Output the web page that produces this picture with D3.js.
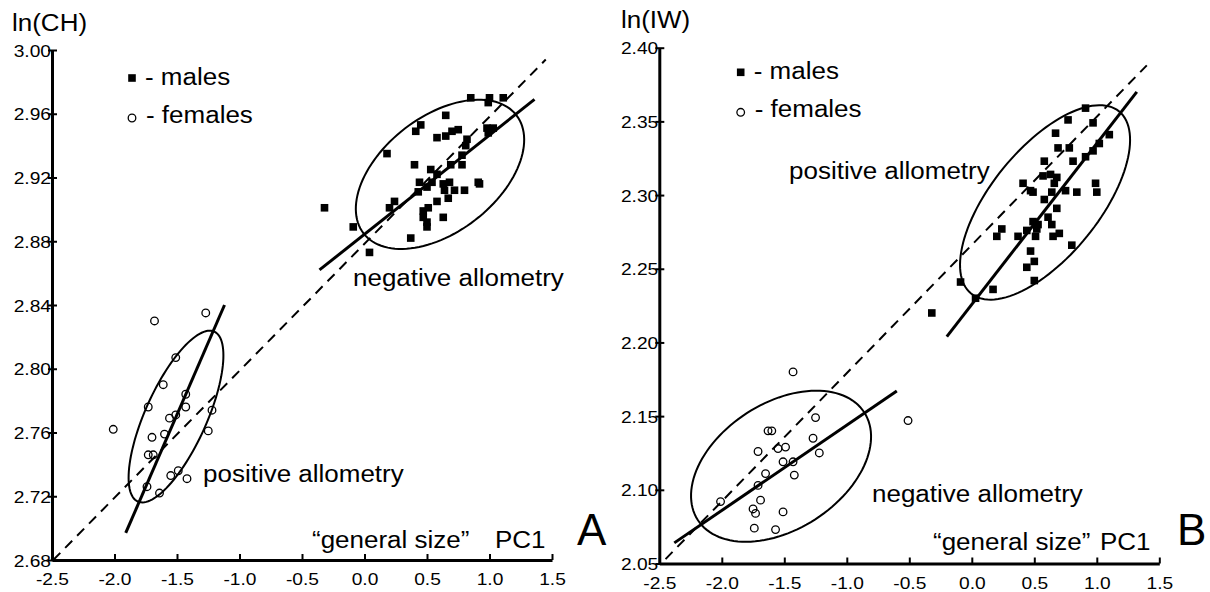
<!DOCTYPE html>
<html>
<head>
<meta charset="utf-8">
<script src="https://cdn.jsdelivr.net/npm/d3@7"></script>
<style>
  body { margin: 0; background: #fff; }
  text { font-family: "Liberation Sans", Arial, sans-serif; fill: #000; }
</style>
</head>
<body>
<div id="chart"></div>
<script>
// ln(CH) vs PC1, panel A
const chMales = [
  [0.85,2.970],[1.00,2.970],[1.11,2.970],[0.99,2.967],[0.65,2.959],[0.45,2.953],[0.41,2.949],[0.70,2.949],
  [0.75,2.950],[0.65,2.946],[0.58,2.945],[0.98,2.951],[1.03,2.951],[0.99,2.948],[0.82,2.944],[0.81,2.940],
  [0.18,2.935],[0.78,2.934],[0.40,2.928],[0.69,2.928],[0.78,2.928],[0.53,2.925],[0.58,2.922],[0.44,2.917],
  [0.54,2.917],[0.50,2.914],[0.63,2.916],[0.68,2.917],[0.91,2.917],[0.92,2.916],[0.64,2.912],[0.72,2.912],
  [0.80,2.912],[0.43,2.911],[0.67,2.907],[0.58,2.905],[0.24,2.905],[0.20,2.901],[0.51,2.901],[0.47,2.899],
  [0.47,2.895],[0.63,2.895],[0.50,2.892],[0.50,2.889],[-0.32,2.901],[-0.09,2.889],[0.37,2.882],[0.04,2.873]
];
const chFemales = [
  [-1.68,2.830],[-1.27,2.835],[-1.51,2.807],[-1.61,2.790],[-1.73,2.776],[-1.43,2.784],[-1.43,2.776],
  [-1.51,2.771],[-1.56,2.769],[-1.22,2.774],[-2.01,2.762],[-1.70,2.757],[-1.60,2.759],[-1.25,2.761],
  [-1.73,2.746],[-1.69,2.746],[-1.55,2.733],[-1.49,2.736],[-1.42,2.731],[-1.74,2.726],[-1.64,2.722]
];
const chIsometry = [[-2.49,2.680],[1.45,2.994]];
const chMaleFit = [[-0.36,2.862],[1.36,2.969]];
const chFemaleFit = [[-1.91,2.697],[-1.12,2.840]];
// ellipses: centre, two conjugate semi-axes (data units)
const chMaleEllipse = {c:[0.604,2.922], u:[0.612,0.0370], v:[0.281,-0.0287]};
const chFemaleEllipse = {c:[-1.508,2.770], u:[0.306,0.0533], v:[0.224,-0.0079]};

// ln(IW) vs PC1, panel B
const iwMales = [
  [0.91,2.359],[0.77,2.351],[0.97,2.349],[0.67,2.342],[1.10,2.341],[1.02,2.335],[0.69,2.332],[0.78,2.332],
  [0.97,2.330],[0.91,2.326],[0.58,2.323],[0.81,2.323],[0.57,2.313],[0.63,2.314],[0.68,2.312],[0.66,2.308],
  [0.41,2.308],[0.99,2.308],[0.47,2.303],[0.49,2.302],[0.64,2.302],[0.75,2.303],[0.84,2.302],[1.00,2.302],
  [0.58,2.297],[0.68,2.291],[0.61,2.285],[0.49,2.282],[0.53,2.280],[0.64,2.280],[0.24,2.277],[0.44,2.276],
  [0.52,2.277],[0.20,2.272],[0.37,2.272],[0.51,2.272],[0.65,2.272],[0.70,2.274],[0.80,2.266],[0.47,2.262],
  [0.50,2.255],[0.44,2.251],[0.50,2.242],[-0.09,2.241],[0.17,2.236],[0.03,2.230],[-0.32,2.220]
];
const iwFemales = [
  [-1.43,2.180],[-1.25,2.149],[-1.63,2.140],[-1.60,2.140],[-1.27,2.135],[-1.55,2.128],[-1.49,2.129],
  [-1.71,2.126],[-1.22,2.125],[-1.51,2.119],[-1.43,2.119],[-1.65,2.111],[-1.42,2.110],[-1.71,2.103],
  [-1.69,2.093],[-2.01,2.092],[-1.75,2.087],[-1.73,2.084],[-1.51,2.085],[-1.74,2.074],[-1.57,2.073],
  [-0.51,2.147]
];
const iwIsometry = [[-2.45,2.053],[1.40,2.388]];
const iwMaleFit = [[-0.20,2.204],[1.32,2.370]];
const iwFemaleFit = [[-2.38,2.064],[-0.60,2.167]];
const iwMaleEllipse = {c:[0.586,2.295], u:[0.592,0.0618], v:[0.335,-0.0231]};
const iwFemaleEllipse = {c:[-1.526,2.116], u:[0.666,0.0365], v:[0.274,-0.0360]};

const xTicks = [-2.5,-2.0,-1.5,-1.0,-0.5,0.0,0.5,1.0,1.5];
const chTicks = [2.68,2.72,2.76,2.80,2.84,2.88,2.92,2.96,3.00];
const iwTicks = [2.05,2.10,2.15,2.20,2.25,2.30,2.35,2.40];

const width = 1210, height = 592;
const sx = 1.13; // text in the source is a bit wide

const svg = d3.select("#chart").append("svg")
  .attr("width", width)
  .attr("height", height);

function label(g, str, x, y, size) {
  g.append("text")
    .attr("transform", `translate(${x},${y}) scale(${sx},1)`)
    .style("font-size", size + "px")
    .text(str);
}

function panel(opt) {
  const g = svg.append("g");
  const x = d3.scaleLinear().domain([-2.5, 1.5]).range(opt.xr);
  const y = d3.scaleLinear().domain(opt.yd).range(opt.yr);
  const line = d3.line().x(d => x(d[0])).y(d => y(d[1]));

  // axes
  const xAxis = g.append("g")
    .attr("transform", `translate(0,${opt.yr[0]})`)
    .call(d3.axisBottom(x).tickValues(xTicks).tickFormat(d => d.toFixed(1))
      .tickSizeInner(-6).tickSizeOuter(0));
  const yAxis = g.append("g")
    .attr("transform", `translate(${opt.xr[0]},0)`)
    .call(d3.axisLeft(y).tickValues(opt.yTicks).tickFormat(d => d.toFixed(2))
      .tickSizeInner(-4).tickSizeOuter(0));
  [xAxis, yAxis].forEach(a => {
    a.select(".domain").attr("stroke", "#000").attr("stroke-width", 3);
    a.selectAll(".tick line").attr("stroke", "#000").attr("stroke-width", 2);
    a.selectAll("text").style("font-size", "17px").attr("fill", "#000")
      .style("font-family", '"Liberation Sans", Arial, sans-serif');
  });
  xAxis.selectAll(".tick text").attr("y", 0).attr("dy", 0)
    .attr("transform", `translate(0,25) scale(${sx},1)`);
  yAxis.selectAll(".tick line").attr("x1", -4).attr("x2", 5);
  yAxis.selectAll(".tick text").attr("x", 0).attr("dy", "0.36em")
    .attr("transform", `translate(-1,0) scale(${sx},1)`);

  // ellipses
  const ts = d3.range(0, 361, 3).map(a => a * Math.PI / 180);
  [opt.ellM, opt.ellF].forEach(e => {
    const pts = ts.map(t => [e.c[0] + e.u[0]*Math.cos(t) + e.v[0]*Math.sin(t),
                             e.c[1] + e.u[1]*Math.cos(t) + e.v[1]*Math.sin(t)]);
    g.append("path").attr("d", line(pts) + "Z")
      .attr("fill", "none").attr("stroke", "#000").attr("stroke-width", 2);
  });

  // isometry and fitted lines
  g.append("path").attr("d", line(opt.iso))
    .attr("fill", "none").attr("stroke", "#000").attr("stroke-width", 2)
    .attr("stroke-dasharray", "10,7");
  [opt.fitM, opt.fitF].forEach(f => {
    g.append("path").attr("d", line(f))
      .attr("fill", "none").attr("stroke", "#000").attr("stroke-width", 3);
  });

  // points
  g.selectAll("rect.m").data(opt.males).enter().append("rect")
    .attr("class", "m")
    .attr("x", d => x(d[0]) - 3.8).attr("y", d => y(d[1]) - 3.8)
    .attr("width", 7.6).attr("height", 7.6).attr("fill", "#000");
  g.selectAll("circle.f").data(opt.females).enter().append("circle")
    .attr("class", "f")
    .attr("cx", d => x(d[0])).attr("cy", d => y(d[1])).attr("r", 3.8)
    .attr("fill", "none").attr("stroke", "#000").attr("stroke-width", 1.3);

  // legend
  const L = opt.legend;
  g.append("rect").attr("x", L[0] - 3.8).attr("y", L[1] - 3.8)
    .attr("width", 7.6).attr("height", 7.6).attr("fill", "#000");
  label(g, "- males", L[0] + 13, L[1] + 7, 23);
  g.append("circle").attr("cx", L[0]).attr("cy", L[1] + 40).attr("r", 3.8)
    .attr("fill", "none").attr("stroke", "#000").attr("stroke-width", 1.3);
  label(g, "- females", L[0] + 14, L[1] + 45, 23);

  label(g, opt.yLabel, opt.yLabelPos[0], opt.yLabelPos[1], 23);
  opt.notes.forEach(n => label(g, n[0], n[1], n[2], 23));
  g.append("text").attr("x", opt.letter[1]).attr("y", opt.letter[2])
    .style("font-size", "44px").text(opt.letter[0]);
}

panel({
  xr: [52, 552], yd: [2.68, 3.00], yr: [560, 50], yTicks: chTicks,
  males: chMales, females: chFemales,
  iso: chIsometry, fitM: chMaleFit, fitF: chFemaleFit,
  ellM: chMaleEllipse, ellF: chFemaleEllipse,
  legend: [132, 78],
  yLabel: "ln(CH)", yLabelPos: [12, 31],
  notes: [["negative allometry", 353, 286], ["positive allometry", 203, 482],
          ["\u201Cgeneral size\u201D", 312, 548], ["PC1", 495, 548]],
  letter: ["A", 577, 545]
});

panel({
  xr: [659.3, 1159.3], yd: [2.05, 2.40], yr: [563.5, 47.7], yTicks: iwTicks,
  males: iwMales, females: iwFemales,
  iso: iwIsometry, fitM: iwMaleFit, fitF: iwFemaleFit,
  ellM: iwMaleEllipse, ellF: iwFemaleEllipse,
  legend: [740.7, 72.3],
  yLabel: "ln(IW)", yLabelPos: [621, 28],
  notes: [["positive allometry", 789, 179], ["negative allometry", 872, 502],
          ["\u201Cgeneral size\u201D", 933, 550], ["PC1", 1100, 550]],
  letter: ["B", 1177, 545]
});
</script>
</body>
</html>
